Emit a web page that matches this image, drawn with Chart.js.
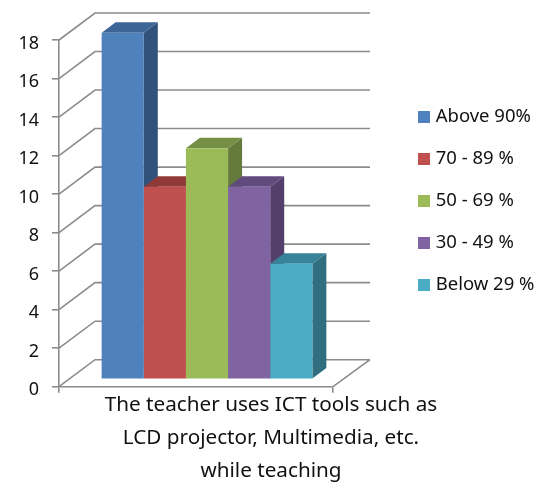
<!DOCTYPE html>
<html><head><meta charset="utf-8">
<style>html,body{margin:0;padding:0;background:#fff}canvas{display:block}</style>
<script src="https://cdn.jsdelivr.net/npm/chart.js@4"></script>
</head><body><canvas id="c" width="553" height="487"></canvas>
<script>
const categories = [["The teacher uses ICT tools such as","LCD projector, Multimedia, etc.","while teaching"]];
const seriesNames = ["Above 90%","70 - 89 %","50 - 69 %","30 - 49 %","Below 29 %"];
const seriesValues = [18,10,12,10,6];
const frontColors = ["#4F81BD","#C0504D","#9BBB59","#8064A2","#4BACC6"];
const topColors = ["#3D6596","#8F3A38","#759045","#604B7C","#38839A"];
const sideColors = ["#31527B","#7C3230","#647B3B","#533F6A","#306E80"];
const FONT = "'Noto Sans'";
const depth = {wallX:36, wallY:27, barX:14, barY:10.5, shiftX:11, shiftY:7.3};

function swatch(color){
  const s = document.createElement('canvas');
  s.width = 12; s.height = 12;
  const g = s.getContext('2d');
  g.fillStyle = color; g.fillRect(0,0,12,12);
  return s;
}

const scene3d = {
  id:'scene3d',
  beforeDatasetsDraw(chart){
    const {ctx, scales:{x,y}} = chart;
    const L = x.left, R = x.right, B = y.bottom;
    ctx.save();
    ctx.strokeStyle = '#8C8C8C'; ctx.lineWidth = 1.6;
    ctx.beginPath();
    y.ticks.forEach(t=>{
      const py = y.getPixelForValue(t.value);
      ctx.moveTo(L,py); ctx.lineTo(L+depth.wallX,py-depth.wallY); ctx.lineTo(R+depth.wallX+1,py-depth.wallY);
    });
    ctx.moveTo(R+depth.wallX+1,B-depth.wallY); ctx.lineTo(R,B);
    ctx.stroke();
    ctx.translate(depth.shiftX,-depth.shiftY);
    chart.data.datasets.forEach((d,i)=>{
      const el = chart.getDatasetMeta(i).data[0];
      const l = el.x-el.width/2, r = el.x+el.width/2, t = el.y, b = el.base;
      ctx.fillStyle = sideColors[i];
      ctx.beginPath();
      ctx.moveTo(r,t);ctx.lineTo(r+depth.barX,t-depth.barY);ctx.lineTo(r+depth.barX,b-depth.barY);ctx.lineTo(r,b);
      ctx.closePath();ctx.fill();
      ctx.fillStyle = topColors[i];
      ctx.beginPath();
      ctx.moveTo(l,t);ctx.lineTo(l+depth.barX,t-depth.barY);ctx.lineTo(r+depth.barX,t-depth.barY);ctx.lineTo(r,t);
      ctx.closePath();ctx.fill();
    });
  },
  afterDatasetsDraw(chart){ chart.ctx.restore(); },
  beforeDraw(chart){
    const lg = chart.legend;
    const w = 155, h = 250;
    lg.left = 421.55-23.5; lg.right = lg.left+w; lg.top = 84; lg.bottom = lg.top+h; lg.width=w; lg.height=h;
  }
};

new Chart(document.getElementById('c'),{
  type:'bar',
  data:{labels:categories,
    datasets:seriesNames.map((n,i)=>({label:n,data:[seriesValues[i]],backgroundColor:frontColors[i],borderWidth:0}))},
  options:{
    responsive:false,animation:false,
    layout:{padding:{left:0,top:40,right:220,bottom:0}},
    datasets:{bar:{categoryPercentage:0.769,barPercentage:1}},
    scales:{
      x:{grid:{display:true,drawOnChartArea:false,color:'#8C8C8C',lineWidth:1.6,tickLength:6},
         border:{display:true,color:'#8C8C8C',width:1.6},
         afterFit(s){s.height=100.3;},
         ticks:{color:'#111',padding:-4,labelOffset:75,maxRotation:0,minRotation:0,font:{family:FONT,size:20.7,lineHeight:'33px'}}},
      y:{min:0,max:18,
         grid:{drawOnChartArea:false,color:'#8C8C8C',lineWidth:1.6,tickLength:7},
         border:{display:true,color:'#8C8C8C',width:1.6},
         afterFit(s){s.width=59;},
         ticks:{stepSize:2,color:'#111',padding:13,labelOffset:3.5,font:{family:FONT,size:18}}}
    },
    plugins:{tooltip:{enabled:false},title:{display:false},
      legend:{position:'chartArea',align:'start',
        labels:{usePointStyle:true,pointStyleWidth:4.9,boxWidth:12,boxHeight:12,padding:23.5,color:'#111',font:{family:FONT,size:18.5},
          generateLabels:(chart)=>chart.data.datasets.map((d,i)=>({text:d.label,fillStyle:frontColors[i],strokeStyle:frontColors[i],lineWidth:0,pointStyle:swatch(frontColors[i]),datasetIndex:i,fontColor:'#111'}))}}}
  },
  plugins:[scene3d]
});
</script></body></html>
